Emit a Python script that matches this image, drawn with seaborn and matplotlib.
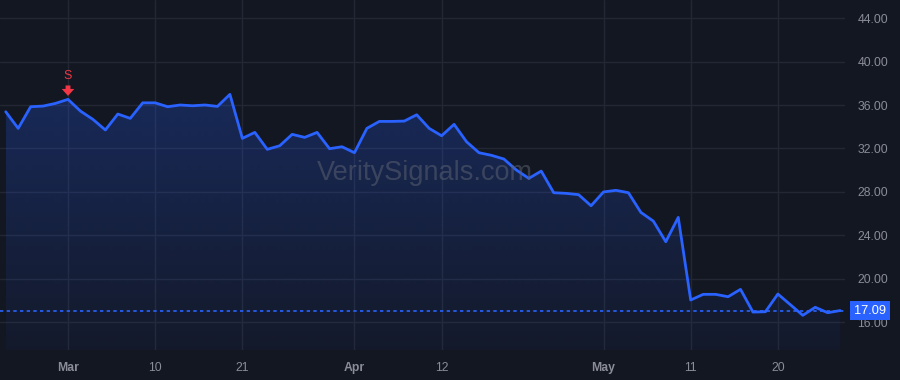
import pandas as pd
import numpy as np
import seaborn as sns
import matplotlib.pyplot as plt
from matplotlib.colors import LinearSegmentedColormap

# precios de cierre, dias habiles 22-feb-2022 a 27-may-2022
prices = [35.38, 33.85, 35.84, 35.90, 36.15, 36.52, 35.44, 34.68, 33.70, 35.17,
          34.77, 36.20, 36.20, 35.84, 36.00, 35.93, 36.00, 35.87, 36.98, 32.93,
          33.48, 31.92, 32.25, 33.30, 33.02, 33.48, 31.98, 32.16, 31.61, 33.85,
          34.49, 34.49, 34.52, 35.10, 33.85, 33.17, 34.22, 32.62, 31.61, 31.37,
          31.03, 30.02, 29.25, 29.92, 27.93, 27.87, 27.75, 26.73, 28.00, 28.15,
          27.93, 26.12, 25.32, 23.42, 25.66, 18.06, 18.58, 18.58, 18.36, 19.04,
          16.95, 16.98, 18.61, 17.63, 16.65, 17.39, 16.89, 17.09]

# dias de mercado (sin Viernes Santo)
dates = [d for d in pd.bdate_range("2022-02-22", "2022-05-27") if d != pd.Timestamp("2022-04-15")]

tick_dates = ["2022-03-01", "2022-03-10", "2022-03-21", "2022-04-01",
              "2022-04-12", "2022-05-02", "2022-05-11", "2022-05-20"]
tick_labels = ["Mar", "10", "21", "Apr", "12", "May", "11", "20"]
month_labels = ["Mar", "Apr", "May"]

y_ticks = [16, 20, 24, 28, 32, 36, 40, 44]
last_price = 17.09
signal_date = "2022-03-01"
signal_label = "S"

bg = "#131722"
blue = "#2962ff"
red = "#f23645"
grid_c = "#232733"
text_c = "#8a8d97"

df = pd.DataFrame({"fecha": dates, "precio": prices})
df["i"] = range(len(df))

sns.set_style("dark", {"axes.facecolor": bg, "figure.facecolor": bg})
plt.rcParams["font.family"] = ["Liberation Sans", "DejaVu Sans"]

fig = plt.figure(figsize=(9, 3.8), dpi=100)
ax = fig.add_axes([0, 30 / 380, 845 / 900, 350 / 380])
ax.set_facecolor(bg)

ymin, ymax = 13.46, 45.66
ax.set_xlim(-0.46, len(df) - 1 + 0.39)
ax.set_ylim(ymin, ymax)

# relleno con degradado bajo la linea
poly = ax.fill_between(df["i"], df["precio"], ymin, color="none", lw=0)
cmap = LinearSegmentedColormap.from_list("g", [(41/255, 98/255, 255/255, 0.04),
                                               (41/255, 98/255, 255/255, 0.25)])
grad = np.linspace(0, 1, 256).reshape(-1, 1)
im = ax.imshow(grad, cmap=cmap, aspect="auto", origin="lower",
               extent=[df["i"].min(), df["i"].max(), ymin, max(prices)], zorder=1)
im.set_clip_path(poly.get_paths()[0], transform=ax.transData)

sns.lineplot(data=df, x="i", y="precio", color=blue, lw=2, ax=ax, zorder=3)

ax.axhline(last_price, color=blue, lw=1.2, ls=(0, (2, 2)), zorder=2)

# grilla
tick_pos = [df.index[df["fecha"] == pd.Timestamp(d)][0] for d in tick_dates]
for p in tick_pos:
    ax.axvline(p, color=grid_c, lw=1, zorder=0)
for v in y_ticks:
    ax.axhline(v, color=grid_c, lw=1, zorder=0)

for s in ax.spines.values():
    s.set_visible(False)

ax.set_xticks(tick_pos)
ax.set_xticklabels(tick_labels)
for lab in ax.get_xticklabels():
    lab.set_color(text_c)
    lab.set_fontsize(8.8)
    if lab.get_text() in month_labels:
        lab.set_fontweight("bold")
ax.tick_params(axis="x", length=0, pad=8.5)

ax.yaxis.tick_right()
ax.set_yticks(y_ticks)
ax.set_yticklabels([f"{v:.2f}" for v in y_ticks])
ax.tick_params(axis="y", length=0, pad=9, labelsize=8.8, labelcolor=text_c)
ax.set_xlabel("")
ax.set_ylabel("")

# etiqueta del ultimo precio
ax.annotate(f"{last_price:.2f}", xy=(1, last_price), xycoords=("axes fraction", "data"),
            xytext=(18, 0), textcoords="offset points", va="center", ha="center",
            color="white", fontsize=9.2, annotation_clip=False, zorder=10,
            bbox=dict(boxstyle="square,pad=0.3", fc=blue, ec="none"))

# marca de senal
si = df.index[df["fecha"] == pd.Timestamp(signal_date)][0]
sy = df.loc[si, "precio"]
ax.annotate("", xy=(si, sy), xycoords="data", xytext=(0, 10), textcoords="offset points",
            arrowprops=dict(arrowstyle="simple,head_width=0.9,head_length=0.5,tail_width=0.35",
                            fc=red, ec="none", shrinkA=0, shrinkB=2.5), zorder=5)
ax.annotate(signal_label, xy=(si, sy), xytext=(0, 17), textcoords="offset points",
            ha="center", va="center", color=red, fontsize=9, zorder=5)

# marca de agua
fig.text(0.472, 1 - 173 / 380, "VeritySignals.com", ha="center", va="center",
         fontsize=19.5, color="#5a6070", alpha=0.55, zorder=0)

fig.savefig("out.png", dpi=100, facecolor=bg)
